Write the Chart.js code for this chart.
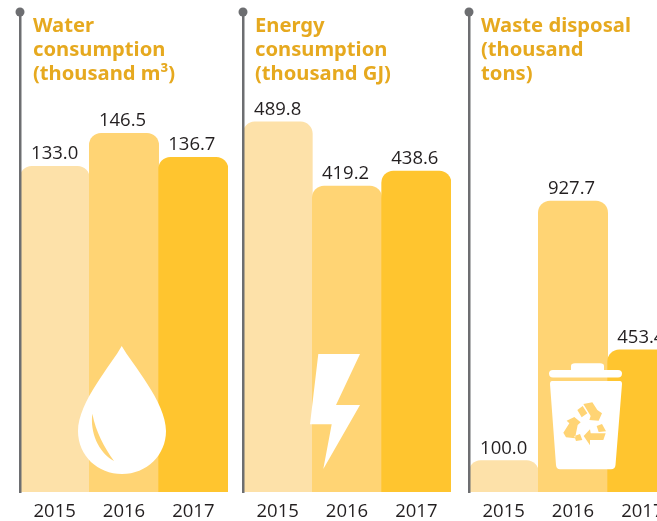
<!DOCTYPE html>
<html><head><meta charset="utf-8">
<style>html,body{margin:0;padding:0;background:#fff;overflow:hidden;width:657px;height:521px}
#wrap{position:relative;width:657px;height:521px;overflow:hidden}
canvas{position:absolute;top:0}</style>
<script src="https://cdn.jsdelivr.net/npm/chart.js@4"></script>
</head><body><div id="wrap"></div>
<script>
const categories = ['2015','2016','2017'];
const waterValues = [133.0,146.5,136.7];
const energyValues = [489.8,419.2,438.6];
// Bar heights as drawn in the reference: its 2015 energy bar is taller than its printed 489.8.
const energyDrawnHeights = [505.5,418,438.5];
const wasteValues = [100.0,927.7,453.4];
const barColors = ['#FDE1A9','#FFD474','#FFC52F'];
const waterTitle = ['Water','consumption','(thousand m³)'];
const energyTitle = ['Energy','consumption','(thousand GJ)'];
const wasteTitle = ['Waste disposal','(thousand','tons)'];

const TITLE_FONT = '"Noto Sans", sans-serif';
const FONT = '"Open Sans", sans-serif';
const poly = pts => { let s=''; pts.forEach((p,i)=>{s+=(i?'L':'M')+p[0]+' '+p[1]+' ';}); return s+'Z '; };
const dropIcon = 'M121.7 346 C112 364 78 402 78 431 C78 456 98 474 122 474 C147 474 166 455 166 431 C166 402 132 364 121.7 346 Z '+
  'M92.3 413.7 C90 432 98 452 114 461 C104 447 96 432 92.3 413.7 Z';
const boltIcon = poly([[318.3,354],[360,354],[336,405],[360,405],[323.3,469],[331.7,424.3],[310,424.3]]);
const z5 = pts => pts.map(p=>[540+p[0]/3,360+p[1]/3]);
const binIcon =
  'M571 370 L571 366 Q571 363.3 575 363.3 L600 363.3 Q604 363.3 604 366 L604 370 L618 370 Q622 370 622 373.5 Q622 377.5 618 377.5 L553 377.5 Q549 377.5 549 373.5 Q549 370 553 370 Z '+
  'M552 381 L620 381 Q622 381 622 384 L615.5 465 Q615 469.3 611 469.3 L560 469.3 Q556.5 469.3 556 465 L550 384 Q550 381 552 381 Z '+
  poly(z5([[112,150],[128,138],[142,160],[125,172]]))+
  poly(z5([[130,132],[157,127],[172,150],[186,160],[176,182],[148,180],[152,168]]))+
  poly(z5([[103,171],[122,187],[113,195],[105,235],[78,232],[70,218],[88,190],[80,182]]))+
  poly(z5([[103,228],[120,222],[127,240],[108,243]]))+
  poly(z5([[131,228],[150,208],[152,220],[197,220],[190,240],[150,240],[150,256]]))+
  poly(z5([[170,198],[186,192],[198,214],[176,216]]));

const panelPlugin = {
  id:'panel',
  afterDatasetsDraw(chart){
    const o=chart.options.plugins.panel, c=chart.ctx;
    c.save(); c.translate(-o.left,0);
    c.fillStyle='#fff'; c.fill(new Path2D(o.icon),'evenodd');
    c.restore();
  },
  afterDraw(chart){
    const o=chart.options.plugins.panel, c=chart.ctx, a=chart.chartArea;
    c.save();
    c.fillStyle='#6D6E71'; c.beginPath(); c.arc(a.left,a.top,4.5,0,Math.PI*2); c.fill();
    c.font='bold 20.2px '+TITLE_FONT; c.fillStyle='#E6A91F'; c.textAlign='left'; c.textBaseline='alphabetic';
    o.title.forEach((t,i)=>c.fillText(t,o.titleX-o.left,32+24*i));
    c.font='18.5px '+FONT; c.fillStyle='#231F20'; c.textAlign='center';
    chart.getDatasetMeta(0).data.forEach((b,i)=>c.fillText(o.labels[i].toFixed(1),b.x-(i?1.5:0),b.y-7));
    c.restore();
  }
};

function panel(left,width,axisX,values,labels,max,title,titleX,icon){
  const cv=document.createElement('canvas');
  cv.width=width; cv.height=521; cv.style.left=left+'px'; cv.style.width=width+'px'; cv.style.height='521px';
  document.getElementById('wrap').appendChild(cv);
  new Chart(cv,{type:'bar',plugins:[panelPlugin],
    data:{labels:categories,datasets:[{data:values,backgroundColor:barColors,barPercentage:1,categoryPercentage:1,
      borderRadius:{topLeft:12,topRight:12,bottomLeft:0,bottomRight:0},borderSkipped:false}]},
    options:{responsive:false,animation:false,
      layout:{padding:{left:axisX-left,right:left+width-(axisX+208),top:12,bottom:0}},
      plugins:{legend:{display:false},tooltip:{enabled:false},
        panel:{left,title,titleX,labels,icon}},
      scales:{
        x:{grid:{display:false,drawTicks:false},border:{display:false},
           ticks:{color:'#231F20',font:{family:FONT,size:18.5},padding:9,maxRotation:0},
           afterFit(s){s.height=29;}},
        y:{min:0,max,grid:{display:false,drawTicks:false},ticks:{display:false},
           border:{display:true,color:'#6D6E71',width:2.5,z:1},afterFit(s){s.width=0;}}
      }}});
}
panel(0,232,20,waterValues,waterValues,196,waterTitle,33,dropIcon);
panel(222,232,243,energyDrawnHeights,energyValues,655.7,energyTitle,255,boltIcon);
panel(448,240,469,wasteValues,wasteValues,1530,wasteTitle,481,binIcon);
</script></body></html>
